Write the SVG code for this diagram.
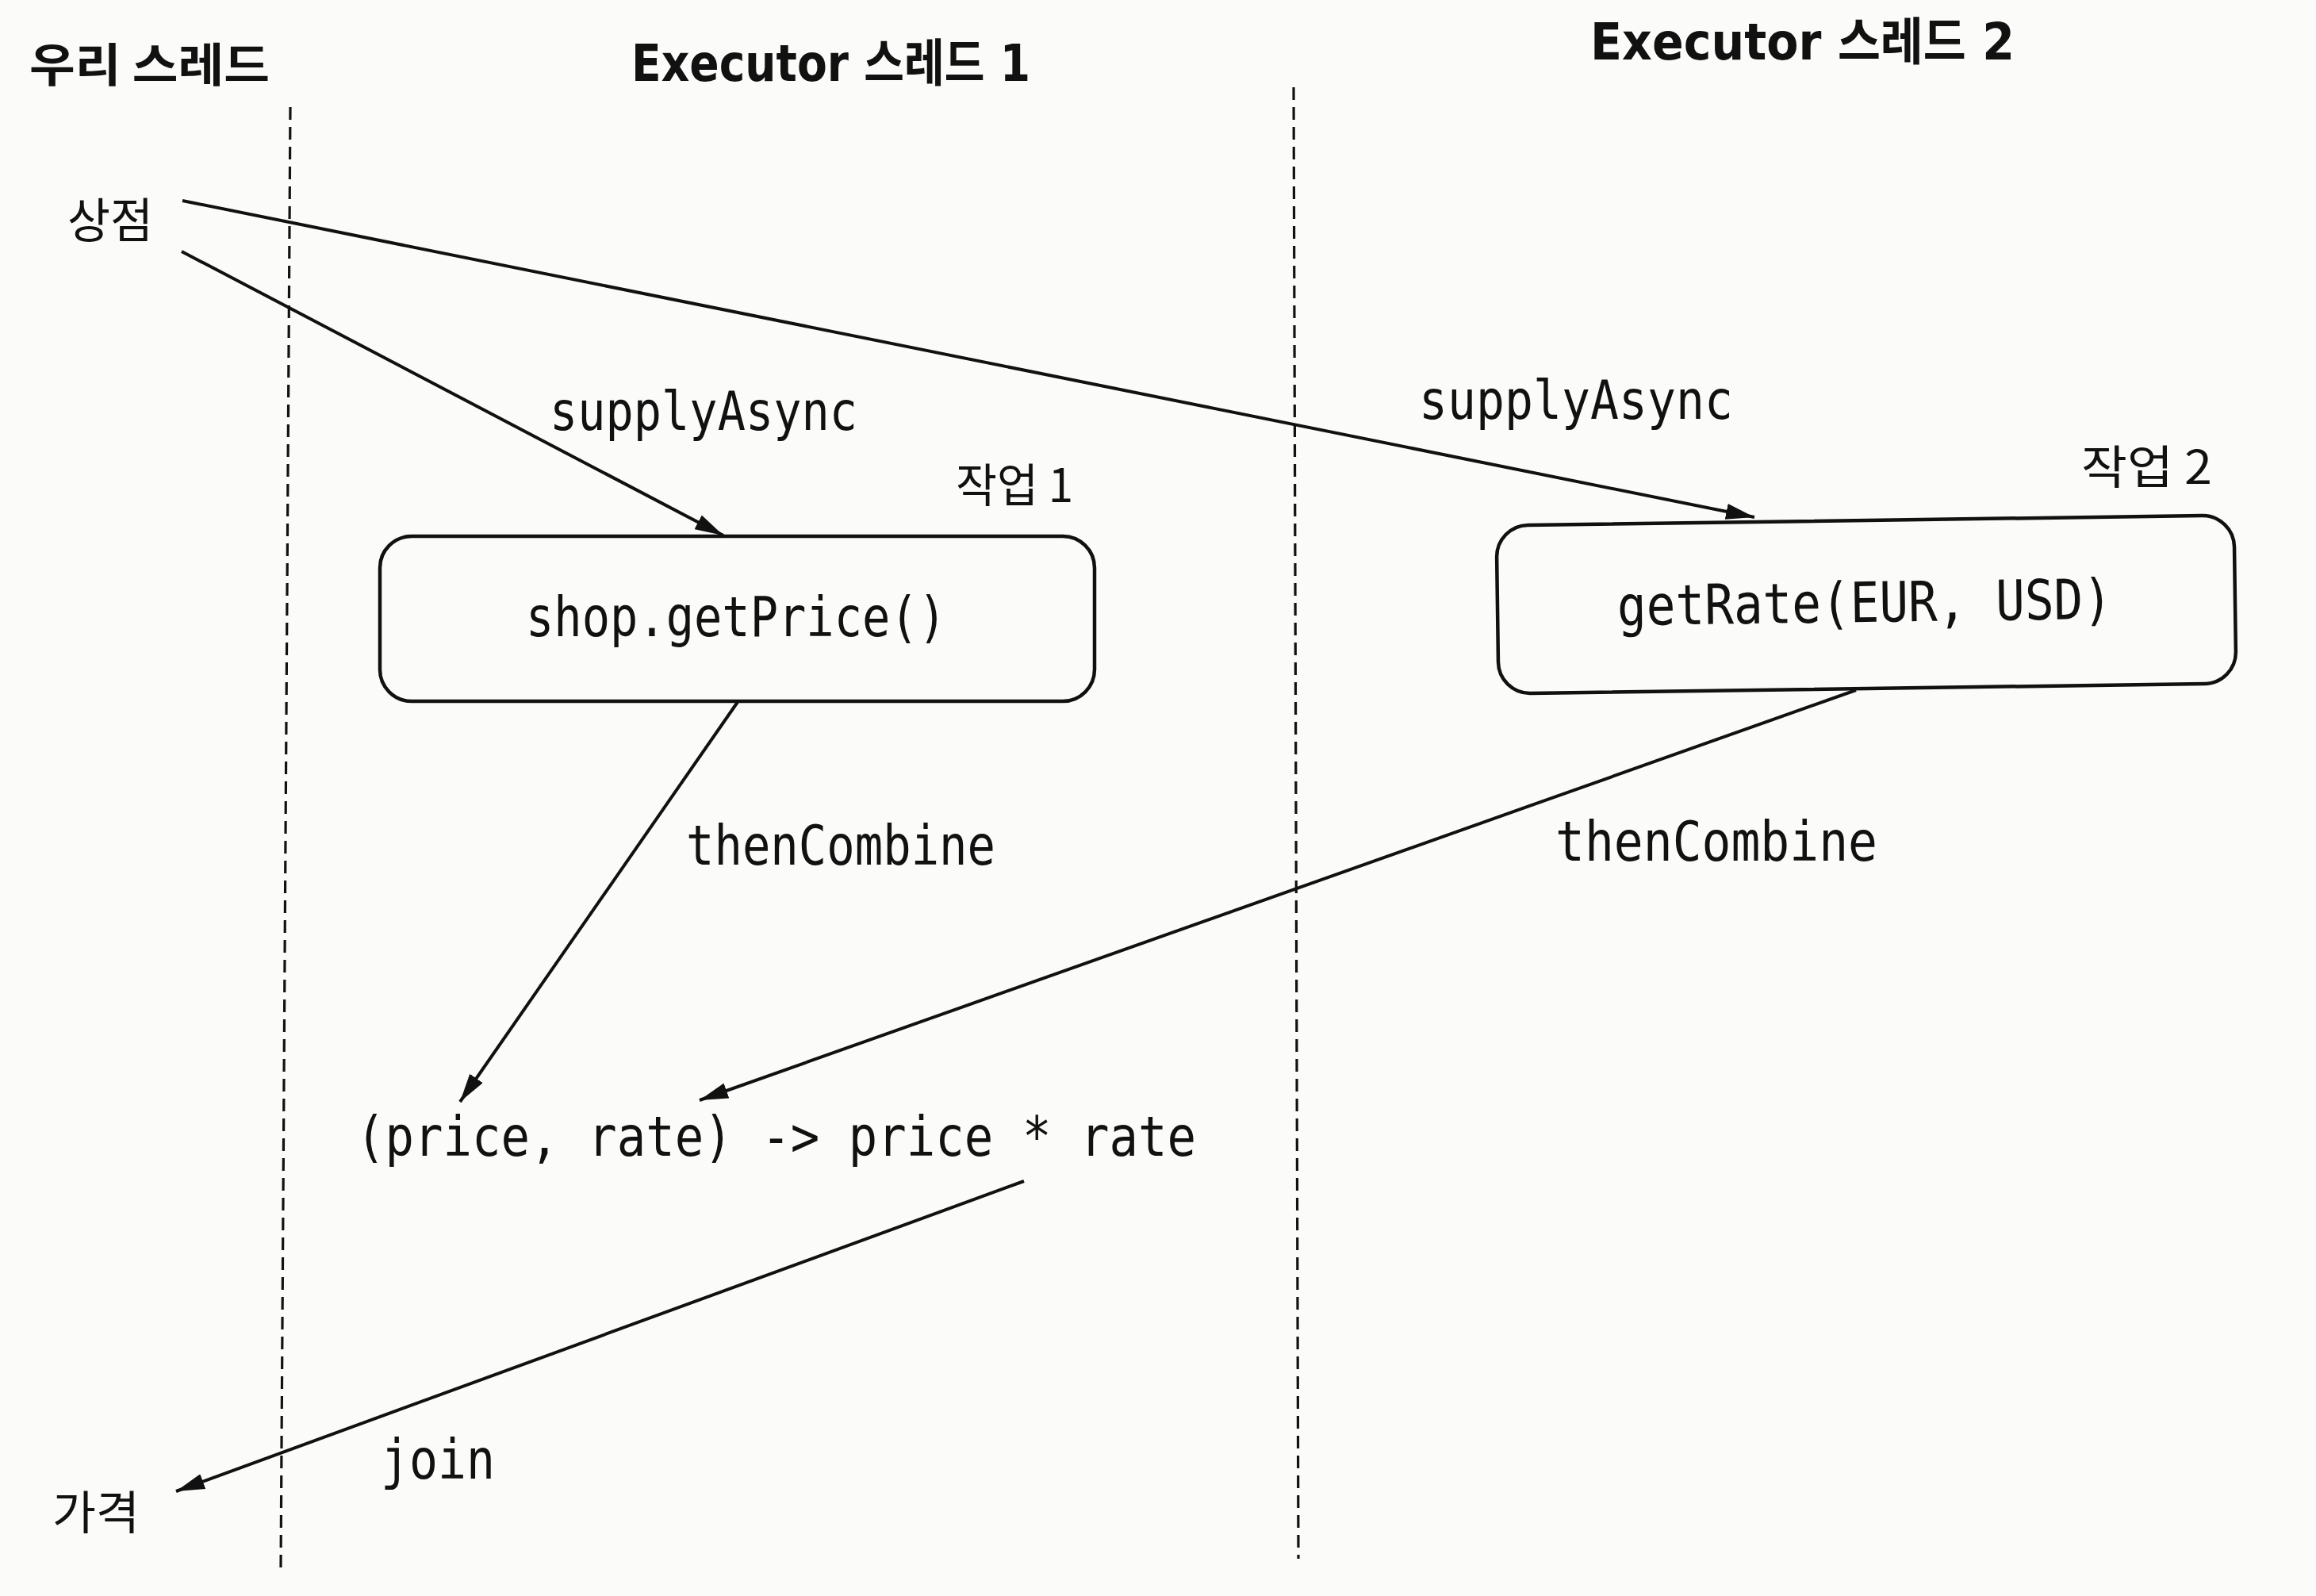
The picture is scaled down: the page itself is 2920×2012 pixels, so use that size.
<svg xmlns="http://www.w3.org/2000/svg" width="2920" height="2012" viewBox="0 0 2920 2012">
<style>
.mono{font-family:"DejaVu Sans Mono","Liberation Mono",monospace;fill:#111;}
.ko{font-family:"Noto Sans CJK KR","Noto Sans",sans-serif;fill:#111;}
.head{font-family:"DejaVu Sans","Noto Sans CJK KR",sans-serif;font-weight:bold;fill:#111;}
.conn{stroke:#111;stroke-width:4;fill:none;}
.lane{stroke:#111;stroke-width:3.2;stroke-dasharray:16 9;fill:none;}
.box{stroke:#111;stroke-width:4.5;fill:none;}
</style>
<defs>
<marker id="arr" viewBox="0 0 36 20" refX="36" refY="10" markerWidth="36" markerHeight="20" markerUnits="userSpaceOnUse" orient="auto">
<path d="M0,0 L36,10 L0,20 z" fill="#111"/>
</marker>
</defs>
<rect x="0" y="0" width="2920" height="2012" fill="#fbfbf9"/>
<g id="lanes">
<text class="ko" x="37" y="103" font-size="58" font-weight="600" textLength="303" lengthAdjust="spacingAndGlyphs">우리 스레드</text>
<text class="head" x="796" y="102" font-size="64" textLength="503" lengthAdjust="spacingAndGlyphs">Executor 스레드 1</text>
<text class="head" x="2005" y="75" font-size="64" textLength="535" lengthAdjust="spacingAndGlyphs">Executor 스레드 2</text>
<line class="lane" x1="366" y1="135" x2="354" y2="1977"/>
<line class="lane" x1="1631" y1="110" x2="1637" y2="1965"/>
</g>
<g id="shop">
<text class="ko" x="85" y="300" font-size="60" textLength="108" lengthAdjust="spacingAndGlyphs">상점</text>
</g>
<g id="task1">
<rect class="box" x="479" y="676" width="901" height="208" rx="40" ry="40"/>
<text class="mono" x="663" y="802" font-size="70" textLength="530" lengthAdjust="spacingAndGlyphs">shop.getPrice()</text>
<text class="ko" x="1205" y="633" font-size="58" textLength="148" lengthAdjust="spacingAndGlyphs">작업 1</text>
</g>
<g id="task2">
<g transform="rotate(-0.8 2353 762)">
<rect class="box" x="1888" y="656" width="930" height="212" rx="40" ry="40"/>
<text class="mono" x="2039" y="784" font-size="70" textLength="624" lengthAdjust="spacingAndGlyphs">getRate(EUR, USD)</text>
</g>
<text class="ko" x="2624" y="610" font-size="58" textLength="165" lengthAdjust="spacingAndGlyphs">작업 2</text>
</g>
<g id="combine">
<text class="mono" x="449" y="1457" font-size="70" textLength="1059" lengthAdjust="spacingAndGlyphs">(price, rate) -&gt; price * rate</text>
</g>
<g id="result">
<text class="ko" x="66" y="1928" font-size="58" textLength="110" lengthAdjust="spacingAndGlyphs">가격</text>
</g>
<g id="connectors">
<line class="conn" x1="229" y1="317" x2="912" y2="675" marker-end="url(#arr)"/>
<line class="conn" x1="230" y1="253" x2="2212" y2="652" marker-end="url(#arr)"/>
<line class="conn" x1="930" y1="885" x2="580" y2="1389" marker-end="url(#arr)"/>
<line class="conn" x1="2340" y1="870" x2="882" y2="1387" marker-end="url(#arr)"/>
<line class="conn" x1="1291" y1="1489" x2="222" y2="1880" marker-end="url(#arr)"/>
<text class="mono" x="693" y="542" font-size="68" textLength="388" lengthAdjust="spacingAndGlyphs">supplyAsync</text>
<text class="mono" x="1789" y="528" font-size="68" textLength="396" lengthAdjust="spacingAndGlyphs">supplyAsync</text>
<text class="mono" x="865" y="1090" font-size="70" textLength="390" lengthAdjust="spacingAndGlyphs">thenCombine</text>
<text class="mono" x="1961" y="1085" font-size="70" textLength="406" lengthAdjust="spacingAndGlyphs">thenCombine</text>
<text class="mono" x="480" y="1864" font-size="70" textLength="144" lengthAdjust="spacingAndGlyphs">join</text>
</g>
</svg>
